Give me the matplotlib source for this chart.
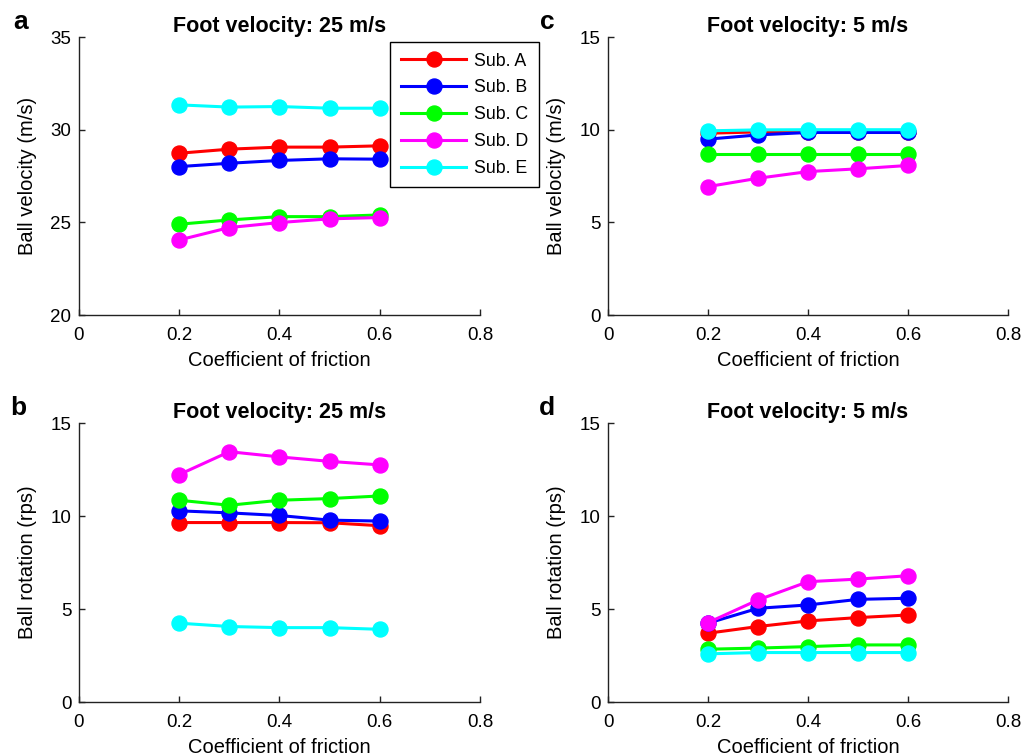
import matplotlib
matplotlib.use('Agg')
import matplotlib.pyplot as plt

plt.rcParams['font.family'] = ['Liberation Sans', 'DejaVu Sans']

friction = [0.2, 0.3, 0.4, 0.5, 0.6]
subjects = ['Sub. A', 'Sub. B', 'Sub. C', 'Sub. D', 'Sub. E']
colors = ['#ff0000', '#0000ff', '#00ff00', '#ff00ff', '#00ffff']

# ball velocity (m/s), foot velocity 25 m/s
vel_25 = [
    [28.73, 28.95, 29.06, 29.06, 29.13],
    [28.01, 28.19, 28.34, 28.43, 28.41],
    [24.90, 25.13, 25.31, 25.31, 25.40],
    [24.05, 24.72, 24.99, 25.19, 25.26],
    [31.34, 31.22, 31.25, 31.16, 31.16],
]
# ball velocity (m/s), foot velocity 5 m/s
vel_5 = [
    [9.81, 9.88, 9.90, 9.90, 9.90],
    [9.49, 9.72, 9.85, 9.85, 9.85],
    [8.70, 8.70, 8.70, 8.70, 8.70],
    [6.93, 7.38, 7.74, 7.89, 8.07],
    [9.94, 9.99, 10.00, 10.00, 10.00],
]
# ball rotation (rps), foot velocity 25 m/s
rot_25 = [
    [9.65, 9.65, 9.65, 9.64, 9.48],
    [10.28, 10.17, 10.03, 9.78, 9.73],
    [10.85, 10.58, 10.85, 10.94, 11.08],
    [12.23, 13.46, 13.18, 12.94, 12.75],
    [4.24, 4.06, 4.00, 4.00, 3.91],
]
# ball rotation (rps), foot velocity 5 m/s
rot_5 = [
    [3.70, 4.06, 4.36, 4.54, 4.68],
    [4.24, 5.04, 5.22, 5.52, 5.58],
    [2.84, 2.90, 2.98, 3.07, 3.07],
    [4.27, 5.49, 6.47, 6.61, 6.79],
    [2.59, 2.66, 2.66, 2.66, 2.66],
]

x_ticks = [0, 0.2, 0.4, 0.6, 0.8]
x_tick_labels = ['0', '0.2', '0.4', '0.6', '0.8']


def draw_panel(ax, data, title, ylabel, ylim, yticks, letter, letter_pos):
    for values, color, name in zip(data, colors, subjects):
        ax.plot(friction, values, '-o', color=color, lw=2.2, ms=10.8,
                label=name)
    ax.set_xlim(0, 0.8)
    ax.set_ylim(*ylim)
    ax.set_xticks(x_ticks)
    ax.set_xticklabels(x_tick_labels)
    ax.set_yticks(yticks)
    ax.spines['top'].set_visible(False)
    ax.spines['right'].set_visible(False)
    for s in ('left', 'bottom'):
        ax.spines[s].set_linewidth(1.0)
        ax.spines[s].set_color('#222222')
    ax.tick_params(direction='in', length=4, width=1.0, color='#222222',
                   labelsize=13.5)
    ax.tick_params(axis='x', pad=8.5)
    ax.tick_params(axis='y', pad=5.5)
    ax.set_title(title, fontsize=15.5, fontweight='bold', pad=1.0)
    ax.set_xlabel('Coefficient of friction', fontsize=14.5)
    ax.set_ylabel(ylabel, fontsize=14.5)
    ax.xaxis.set_label_coords(0.5, -0.128)
    ax.yaxis.set_label_coords(-0.105, 0.5)
    fig.text(letter_pos[0], letter_pos[1], letter, fontsize=19,
             fontweight='bold', va='baseline')


fig = plt.figure(figsize=(10.24, 7.56), dpi=100)
ax_a = fig.add_axes([0.0771, 0.5833, 0.3916, 0.3677])
ax_c = fig.add_axes([0.5938, 0.5833, 0.3906, 0.3677])
ax_b = fig.add_axes([0.0771, 0.0714, 0.3916, 0.3690])
ax_d = fig.add_axes([0.5938, 0.0714, 0.3906, 0.3690])

draw_panel(ax_a, vel_25, 'Foot velocity: 25 m/s', 'Ball velocity (m/s)',
           (20, 35), [20, 25, 30, 35], 'a', (13 / 1024, 1 - 29 / 756))
draw_panel(ax_c, vel_5, 'Foot velocity: 5 m/s', 'Ball velocity (m/s)',
           (0, 15), [0, 5, 10, 15], 'c', (540 / 1024, 1 - 29 / 756))
draw_panel(ax_b, rot_25, 'Foot velocity: 25 m/s', 'Ball rotation (rps)',
           (0, 15), [0, 5, 10, 15], 'b', (10 / 1024, 1 - 415 / 756))
draw_panel(ax_d, rot_5, 'Foot velocity: 5 m/s', 'Ball rotation (rps)',
           (0, 15), [0, 5, 10, 15], 'd', (539 / 1024, 1 - 415 / 756))

leg = ax_a.legend(loc='upper left', bbox_to_anchor=(390 / 1024, 1 - 42 / 756),
                  bbox_transform=fig.transFigure, borderaxespad=0,
                  fontsize=12.8, handlelength=3.7, handletextpad=0.45,
                  labelspacing=0.55, borderpad=0.6, fancybox=False,
                  framealpha=1, edgecolor='black')
leg.get_frame().set_linewidth(1.0)

fig.savefig('out.png', dpi=100)
